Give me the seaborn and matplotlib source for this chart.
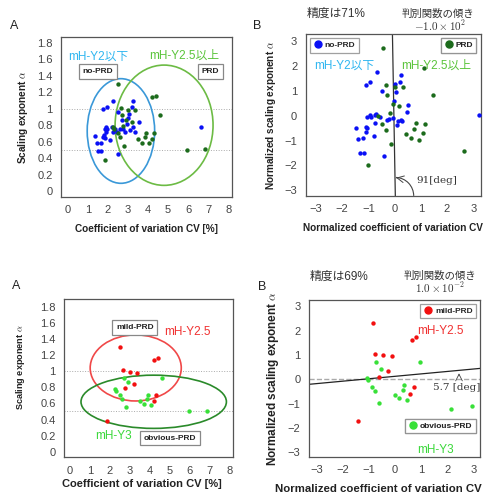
import matplotlib
matplotlib.use("Agg")
import matplotlib.pyplot as plt
from matplotlib.patches import Ellipse, Arc
from matplotlib.lines import Line2D
import seaborn as sns
import pandas as pd

# ---- raw CV [%] vs scaling exponent (panels A) ----
noprd_cv = [1.36, 1.44, 1.49, 1.66, 1.66, 1.77, 1.94, 1.77, 1.85, 1.90, 1.97, 1.80,
            1.85, 1.90, 2.10, 2.19, 2.27, 2.24, 2.35, 2.43, 2.52, 2.52, 2.60, 2.68,
            2.76, 2.85, 2.93, 3.01, 3.06, 3.12, 3.18, 3.26, 3.23, 3.34, 3.56, 6.63]
noprd_alpha = [0.67, 0.59, 0.49, 0.49, 0.59, 1.00, 1.02, 0.66, 0.76, 0.78, 0.75, 0.68,
               0.64, 0.72, 0.62, 0.78, 1.10, 0.72, 0.76, 0.72, 0.96, 0.45, 0.76, 0.86,
               0.75, 0.72, 0.82, 0.89, 0.94, 0.74, 1.02, 1.09, 0.78, 0.72, 0.84, 0.78]

mild_cv = [2.48, 2.63, 2.98, 3.35, 4.22, 4.42, 3.18, 2.76, 4.32, 4.18, 1.87]
mild_alpha = [1.30, 1.01, 0.99, 0.98, 1.14, 1.16, 0.84, 0.79, 0.70, 0.63, 0.38]

obvious_cv = [2.26, 2.31, 2.48, 2.59, 2.88, 2.68, 2.79, 3.48, 3.68, 3.85, 3.90,
              4.05, 4.60, 5.96, 6.86]
obvious_alpha = [0.78, 0.76, 0.71, 0.66, 0.86, 0.92, 0.55, 0.63, 0.59, 0.66, 0.71,
                 0.58, 0.92, 0.50, 0.51]

# ---- normalized values (panels B, top) ----
noprd_ncv = [-0.66, -0.94, -1.09, -0.46, -0.03, 0.00, 0.19, 0.23, 0.06, 0.51, 0.46, 3.20,
             0.23, 0.14, 0.08, -1.47, -1.41, -1.19, -1.07, -1.03, -1.03, -0.94, -0.88,
             -0.74, -0.75, -0.69, -0.56, -0.78, -0.30, -0.20, -1.32, -1.17, -0.39,
             -1.07, -0.05, 0.30]
noprd_nalpha = [1.73, 1.35, 1.21, 0.97, 0.57, 1.28, 1.33, 1.64, 0.93, 0.42, 0.13, 0.03,
                -0.17, -0.21, -0.37, -0.50, -0.94, -0.90, -0.64, -0.50, -0.06, 0.03,
                -0.06, 0.03, -0.30, 0.07, -0.06, -0.83, -0.17, -0.14, -1.48, -1.48,
                -1.64, -0.44, -0.10, -0.20]
prd_ncv = [-0.43, -0.34, -0.28, -0.05, -0.18, -0.62, -0.46, -0.34, -0.15, -1.00, 0.00,
           0.34, 0.17, 1.14, 1.45, 0.80, 0.74, 1.17, 0.44, 0.61, 0.94, 1.07, 2.66]
prd_nalpha = [2.73, 1.24, 0.81, 0.46, 0.10, -0.01, -0.33, -0.57, -1.15, -2.00, 1.13,
              1.14, 0.37, 1.92, 0.81, -0.30, -0.53, -0.33, -0.74, -0.90, -0.97, -0.70,
              -1.40]

# ---- normalized values (panels B, bottom) ----
mild_ncv = [-0.86, -0.77, -0.45, -0.10, -0.28, -0.63, 0.63, 0.80, 0.72, 0.59, -1.43]
mild_nalpha = [2.30, 1.05, 1.01, 0.97, 0.34, 0.09, 1.63, 1.74, -0.30, -0.60, -1.72]
obvious_ncv = [-1.09, -1.02, -0.89, -0.77, -0.73, -0.52, -0.61, -0.01, 0.15, 0.32, 0.34,
               0.47, 0.97, 2.13, 2.94]
obvious_nalpha = [0.05, -0.05, -0.30, -0.49, 0.69, 0.41, -0.98, -0.64, -0.78, -0.46,
                  -0.25, -0.84, 0.69, -1.22, -1.12]

# discriminant line, bottom B (y = slope*x + icpt)
disc_slope = 0.10
disc_icpt = 0.12

BLUE = '#0a10f5'
DKGREEN = '#1c6b1c'
RED = '#f21010'
LTGREEN = '#38e038'

sns.set_theme(style="white")
plt.rcParams['font.family'] = ['Liberation Sans', 'Noto Sans CJK JP']
plt.rcParams['mathtext.fontset'] = 'cm'

fig = plt.figure(figsize=(4.85, 5.01), dpi=100)


def style_axes(ax, xlim, ylim, xticks, yticks, xlabel, ylabel, fmt):
    ax.set_xlim(xlim)
    ax.set_ylim(ylim)
    ax.set_xticks(xticks)
    ax.set_yticks(yticks)
    ax.set_xticklabels([fmt(v) for v in xticks])
    ax.set_yticklabels([fmt(v) for v in yticks])
    ax.tick_params(direction='in', length=2, width=0.6, colors='#666666',
                   labelcolor='#444444', labelsize=8, pad=6)
    for s in ax.spines.values():
        s.set_color('#555555')
        s.set_linewidth(0.9)
    ax.set_xlabel(xlabel, fontsize=7.2, fontweight='bold', color='#222222', labelpad=6)
    ax.set_ylabel(ylabel, fontsize=7.2, fontweight='bold', color='#222222', labelpad=5)


def scat(ax, x, y, color):
    df = pd.DataFrame({'x': x, 'y': y})
    sns.scatterplot(data=df, x='x', y='y', ax=ax, color=color, s=10,
                    linewidth=0, legend=False, zorder=3)


def boxtext(ax, x, y, s, ha='center'):
    ax.text(x, y, s, fontsize=6, fontweight='bold', color='#222222', ha=ha, va='center',
            bbox=dict(boxstyle='square,pad=0.45', fc='white', ec='#888888', lw=0.9))


def legbox(ax, label, color, loc):
    h = [Line2D([], [], marker='o', ls='', color=color, markersize=5)]
    leg = ax.legend(h, [label], loc=loc, frameon=True, fancybox=False,
                    prop={'size': 6, 'weight': 'bold'}, handletextpad=0.2,
                    borderpad=0.4, handlelength=1.2, borderaxespad=0.5)
    leg.get_frame().set_edgecolor('#888888')
    leg.get_frame().set_linewidth(0.9)
    ax.add_artist(leg)


fmt_a = lambda v: f'{v:g}'
fmt_b = lambda v: f'{v:g}'.replace('-', '\u2212')

# ================= top A =================
ax1 = fig.add_axes([0.126, 0.607, 0.353, 0.319])
scat(ax1, noprd_cv, noprd_alpha, BLUE)
scat(ax1, mild_cv + obvious_cv, mild_alpha + obvious_alpha, DKGREEN)
for yy in (1.0, 0.5):
    ax1.axhline(yy, color='#aaaaaa', lw=0.7, ls=':', zorder=1)
ax1.add_patch(Ellipse((2.65, 0.73), 3.36, 1.27, fill=False, ec='#3a98d8', lw=1.2))
ax1.add_patch(Ellipse((4.80, 0.80), 4.88, 1.46, fill=False, ec='#6cbb44', lw=1.2))
ax1.text(0.0, 1.63, 'mH-Y2以下', color='#2fb6f0', fontsize=8.5, va='center')
ax1.text(4.05, 1.64, 'mH-Y2.5以上', color='#5ac43a', fontsize=8.5, va='center')
boxtext(ax1, 1.5, 1.45, 'no-PRD')
boxtext(ax1, 7.1, 1.45, 'PRD')
style_axes(ax1, (-0.33, 8.2), (-0.07, 1.87), range(0, 9),
           [0, 0.2, 0.4, 0.6, 0.8, 1, 1.2, 1.4, 1.6, 1.8],
           'Coefficient of variation CV [%]', 'Scaling exponent $\\alpha$', fmt_a)
fig.text(0.02, 0.942, 'A', fontsize=9, color='#222222')

# ================= top B =================
ax2 = fig.add_axes([0.630, 0.609, 0.361, 0.323])
scat(ax2, noprd_ncv, noprd_nalpha, BLUE)
scat(ax2, prd_ncv, prd_nalpha, DKGREEN)
ax2.plot([0.03, -0.08], [-3.22, 3.27], color='#333333', lw=0.9, zorder=2)
ax2.add_patch(Arc((0.03, -3.22), 1.4, 1.48, theta1=0, theta2=88, color='#444444', lw=0.8))
ax2.annotate('', xy=(0.06, -2.49), xytext=(0.2, -2.52),
             arrowprops=dict(arrowstyle='->', color='#444444', lw=0.7))
ax2.text(0.82, -2.7, '91[deg]', fontsize=7.5, family='DejaVu Serif', color='#333333')
ax2.text(-3.05, 2.0, 'mH-Y2以下', color='#2fb6f0', fontsize=8.5, va='center')
ax2.text(0.27, 2.0, 'mH-Y2.5以上', color='#5ac43a', fontsize=8.5, va='center')
legbox(ax2, 'no-PRD', BLUE, 'upper left')
legbox(ax2, 'PRD', DKGREEN, 'upper right')
style_axes(ax2, (-3.39, 3.28), (-3.22, 3.27), range(-3, 4), range(-3, 4),
           'Normalized coefficient of variation CV', 'Normalized scaling exponent $\\alpha$',
           fmt_b)
fig.text(0.522, 0.942, 'B', fontsize=9, color='#222222')
fig.text(0.692, 0.972, '精度は71%', fontsize=8.5, color='#333333', ha='center', va='center')
fig.text(0.903, 0.972, '判別関数の傾き', fontsize=7.5, color='#333333', ha='center', va='center')
fig.text(0.907, 0.948, '$-1.0\\times10^{2}$', fontsize=8, color='#333333', ha='center',
         va='center')

# ================= bottom A =================
ax3 = fig.add_axes([0.132, 0.087, 0.348, 0.317])
scat(ax3, mild_cv, mild_alpha, RED)
scat(ax3, obvious_cv, obvious_alpha, LTGREEN)
for yy in (1.0, 0.5):
    ax3.axhline(yy, color='#aaaaaa', lw=0.7, ls=':', zorder=1)
ax3.add_patch(Ellipse((3.29, 1.04), 4.56, 0.82, fill=False, ec='#f04848', lw=1.2))
ax3.add_patch(Ellipse((4.19, 0.62), 7.28, 0.66, fill=False, ec='#2a8a2a', lw=1.2))
boxtext(ax3, 3.25, 1.54, 'mild-PRD')
ax3.text(4.7, 1.49, 'mH-Y2.5', color='#f03030', fontsize=8.5, va='center')
ax3.text(1.25, 0.19, 'mH-Y3', color='#3ad83a', fontsize=8.5, va='center')
boxtext(ax3, 5.0, 0.17, 'obvious-PRD')
style_axes(ax3, (-0.3, 8.15), (-0.07, 1.9), range(0, 9),
           [0, 0.2, 0.4, 0.6, 0.8, 1, 1.2, 1.4, 1.6, 1.8],
           'Coefficient of variation CV [%]', 'Scaling exponent $\\alpha$', fmt_a)
ax3.xaxis.label.set_fontsize(8.0)
ax3.xaxis.set_label_coords(0.46, -0.135)
ax3.yaxis.label.set_fontsize(6.6)
ax3.yaxis.set_label_coords(-0.22, 0.57)
fig.text(0.024, 0.424, 'A', fontsize=9, color='#222222')

# ================= bottom B =================
ax4 = fig.add_axes([0.637, 0.088, 0.353, 0.314])
scat(ax4, mild_ncv, mild_nalpha, RED)
scat(ax4, obvious_ncv, obvious_nalpha, LTGREEN)
ax4.axhline(0, color='#aaaaaa', lw=1.0, ls='--', zorder=1)
xl = (-3.3, 3.26)
ax4.plot(xl, [disc_slope * v + disc_icpt for v in xl], color='#222222', lw=0.9, zorder=2)
ax4.annotate('', xy=(2.45, 0.36), xytext=(2.45, 0.02),
             arrowprops=dict(arrowstyle='->', color='#444444', lw=0.6))
ax4.text(1.47, -0.45, '5.7 [deg]', fontsize=7.5, family='DejaVu Serif', color='#333333')
legbox(ax4, 'mild-PRD', RED, 'upper right')
ax4.text(0.83, 2.0, 'mH-Y2.5', color='#f03030', fontsize=8.5, va='center')
legbox(ax4, 'obvious-PRD', LTGREEN, (0.56, 0.15))
ax4.text(0.83, -2.9, 'mH-Y3', color='#3ad83a', fontsize=8.5, va='center')
style_axes(ax4, (-3.3, 3.26), (-3.2, 3.28), range(-3, 4), range(-3, 4),
           'Normalized coefficient of variation CV', 'Normalized scaling exponent $\\alpha$',
           fmt_b)
ax4.xaxis.label.set_fontsize(8.2)
ax4.xaxis.set_label_coords(0.405, -0.17)
ax4.yaxis.label.set_fontsize(8.5)
fig.text(0.532, 0.422, 'B', fontsize=9, color='#222222')
fig.text(0.700, 0.448, '精度は69%', fontsize=8.5, color='#333333', ha='center', va='center')
fig.text(0.907, 0.449, '判別関数の傾き', fontsize=7.5, color='#333333', ha='center', va='center')
fig.text(0.907, 0.425, '$1.0\\times10^{-2}$', fontsize=8, color='#333333', ha='center',
         va='center')

fig.savefig('out.png', dpi=100)
